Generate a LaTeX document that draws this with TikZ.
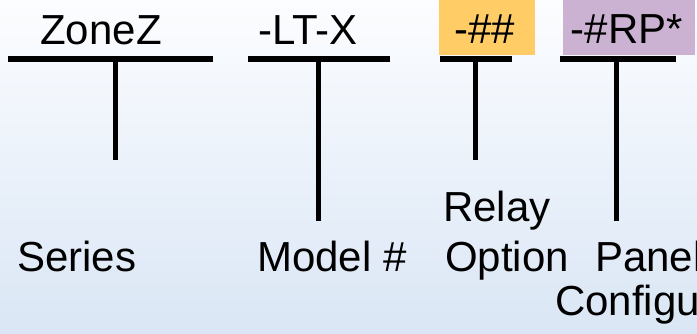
\documentclass[tikz,border=0pt]{standalone}
\usepackage{fontspec}
\setmainfont{Liberation Sans}
\usepackage{tikz}
\usetikzlibrary{positioning,calc}
\definecolor{relayorange}{RGB}{255,204,102}
\definecolor{panelpurple}{RGB}{204,178,210}
\definecolor{bgtop}{RGB}{252,253,255}
\definecolor{bgbottom}{RGB}{218,230,245}

\begin{document}
\begin{tikzpicture}[x=1pt, y=1pt,
    code/.style={font=\fontsize{42}{48}\selectfont, inner sep=0pt, anchor=base},
    caption/.style={font=\fontsize{42}{48}\selectfont, inner sep=0pt, anchor=base west},
    bar/.style={line width=6pt},
    stem/.style={line width=5pt}]
    \clip (0,0) rectangle (697,333);
    \shade [top color=bgtop, bottom color=bgbottom] (0,0) rectangle (697,333);

    % coloured fields
    \node [fill=relayorange, inner sep=0pt, minimum width=96, minimum height=55, anchor=north west] (relaybox) at (439,333) {};
    \node [fill=panelpurple, inner sep=0pt, minimum width=132, minimum height=55, anchor=north west] (panelbox) at (563,333) {};

    % part number
    \node [code] (zonez) at (101,288) {ZoneZ};
    \node [code] (ltx) at (308,288) {-LT-X};
    \node [code] (relaycode) at (485,290) {-\#\#};
    \node [code] (panelcode) at (627,290) {-\#RP*};

    % bars and stems
    \coordinate (zl) at (8,274);   \coordinate (zr) at (213,274);
    \coordinate (zt) at (115,274); \coordinate (zb) at (115,173);
    \coordinate (ll) at (248,274); \coordinate (lr) at (390,274);
    \coordinate (lt) at (318,274); \coordinate (lb) at (318,112);
    \coordinate (rl) at (440,274); \coordinate (rr) at (512,274);
    \coordinate (rt) at (475,274); \coordinate (rb) at (475,173);
    \coordinate (pl) at (560,274); \coordinate (pr) at (676,274);
    \coordinate (pt) at (616,274); \coordinate (pb) at (616,112);

    \draw [bar] (zl) -- (zr);
    \draw [stem] (zt) -- (zb);
    \draw [bar] (ll) -- (lr);
    \draw [stem] (lt) -- (lb);
    \draw [bar] (rl) -- (rr);
    \draw [stem] (rt) -- (rb);
    \draw [bar] (pl) -- (pr);
    \draw [stem] (pt) -- (pb);

    % captions
    \node [caption] (series) at (17,62) {Series};
    \node [caption] (model) at (257,62) {Model \#};
    \node [caption] (relay) at (443,112) {Relay};
    \node [caption] (option) at (445,62) {Option};
    \node [caption] (panel) at (595,62) {Panel};
    \node [caption] (config) at (555,18) {Configuration};
\end{tikzpicture}
\end{document}
